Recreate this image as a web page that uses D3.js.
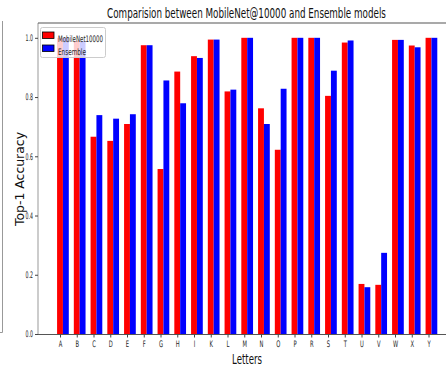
<!DOCTYPE html>
<html>
<head>
<meta charset="utf-8">
<script src="https://cdn.jsdelivr.net/npm/d3@7"></script>
<style>
  body { margin: 0; background: #fff; }
  svg { display: block; }
  text { font-family: "DejaVu Sans", sans-serif; }
</style>
</head>
<body>
<svg width="446" height="368"></svg>
<script>
// letters on the x axis
const letters = ["A","B","C","D","E","F","G","H","I","K","L","M","N","O","P","R","S","T","U","V","W","X","Y"];

// top-1 accuracy
const mobilenet = [1.0, 0.99, 0.666, 0.652, 0.709, 0.975, 0.557, 0.886, 0.938, 0.994, 0.819, 1.0,
  0.762, 0.622, 1.0, 1.0, 0.804, 0.984, 0.169, 0.166, 0.993, 0.974, 1.0];
const ensemble = [1.0, 0.99, 0.739, 0.727, 0.742, 0.975, 0.856, 0.779, 0.932, 0.994, 0.825, 1.0,
  0.709, 0.828, 1.0, 1.0, 0.889, 0.991, 0.158, 0.274, 0.993, 0.968, 1.0];

const yTicks = [0, 0.2, 0.4, 0.6, 0.8, 1.0];
const seriesNames = ["MobileNet10000", "Ensemble"];
const colors = ["#ff0000", "#0000ff"];

const svg = d3.select("svg");

const plotLeft = 38, plotRight = 456, plotTop = 23, plotBottom = 334;
const barW = 0.35;
const squeeze = 0.58; // the source picture is squashed sideways

// index -> pixel
const x = d3.scaleLinear().domain([0, letters.length - 1]).range([60, 428.5]);
const y = d3.scaleLinear().domain([0, 1.05]).range([plotBottom, plotTop]);

// places a horizontally squeezed text at (px, py)
function label(px, py, txt, size, anchor, width) {
  const t = svg.append("text")
    .attr("font-size", size)
    .attr("text-anchor", anchor)
    .attr("fill", "#111")
    .text(txt);
  let sx = squeeze;
  if (width) sx = width / t.node().getComputedTextLength();
  t.attr("transform", `translate(${px},${py}) scale(${sx},1)`);
  return t;
}

// stray frame edge on the far left
svg.append("path")
  .attr("d", "M2.5,21V332.5H0")
  .attr("fill", "none")
  .attr("stroke", "#999")
  .attr("stroke-width", 1);

const bars = svg.append("g");
[mobilenet, ensemble].forEach((vals, s) => {
  bars.append("g")
    .selectAll("rect")
    .data(vals)
    .enter()
    .append("rect")
    .attr("x", (d, i) => x(i - barW / 2 + s * barW))
    .attr("width", x(barW) - x(0))
    .attr("y", (d) => y(d))
    .attr("height", (d) => y(0) - y(d))
    .attr("fill", colors[s]);
});

// spines
svg.append("line").attr("x1", plotLeft).attr("x2", plotLeft).attr("y1", plotTop).attr("y2", plotBottom)
  .attr("stroke", "#999").attr("stroke-width", 1);
svg.append("line").attr("x1", plotLeft).attr("x2", plotRight).attr("y1", plotBottom + 0.5).attr("y2", plotBottom + 0.5)
  .attr("stroke", "#555").attr("stroke-width", 1);
svg.append("line").attr("x1", plotLeft).attr("x2", plotRight).attr("y1", plotTop).attr("y2", plotTop)
  .attr("stroke", "#555").attr("stroke-width", 1.2);

// axes
const xAxis = d3.axisBottom(x)
  .tickValues(d3.range(letters.length))
  .tickFormat((i) => letters[i])
  .tickSize(3)
  .tickPadding(3);
const gx = svg.append("g").attr("transform", `translate(0,${plotBottom + 0.5})`).call(xAxis);
gx.select(".domain").remove();
gx.selectAll(".tick line").attr("stroke", "#444");
gx.selectAll(".tick text")
  .attr("font-family", null)
  .attr("font-size", 9).attr("fill", "#222")
  .attr("transform", `scale(${squeeze},1)`);

const yAxis = d3.axisLeft(y)
  .tickValues(yTicks)
  .tickFormat(d3.format(".1f"))
  .tickSize(3)
  .tickPadding(2);
const gy = svg.append("g").attr("transform", `translate(${plotLeft},0)`).call(yAxis);
gy.select(".domain").remove();
gy.selectAll(".tick line").attr("stroke", "#444");
gy.selectAll(".tick text")
  .attr("font-family", null)
  .attr("font-size", 9).attr("fill", "#222")
  .attr("x", -5 / 0.52)
  .attr("transform", "scale(0.52,1)");

// legend
const lg = svg.append("g").attr("transform", "translate(40.5,27.5)");
lg.append("rect")
  .attr("width", 65).attr("height", 30).attr("rx", 2)
  .attr("fill", "#fff").attr("fill-opacity", 0.8)
  .attr("stroke", "#ccc").attr("stroke-width", 1);
seriesNames.forEach((name, s) => {
  lg.append("rect")
    .attr("x", 2).attr("y", 4.5 + s * 13)
    .attr("width", 11.5).attr("height", 6.5)
    .attr("fill", colors[s]).attr("stroke", "#000").attr("stroke-width", 0.8);
});
label(58, 41.5, seriesNames[0], 9, "start", 45).attr("fill", "#222");
label(58, 54.5, seriesNames[1], 9, "start", 28).attr("fill", "#222");

// title and axis labels
label(246.5, 17.5, "Comparision between MobileNet@10000 and Ensemble models", 14, "middle", 279);
label(247, 363.5, "Letters", 14.5, "middle", 30);

svg.append("text")
  .attr("transform", "translate(24,179) rotate(-90)")
  .attr("text-anchor", "middle")
  .attr("font-size", 11.5)
  .attr("textLength", 94)
  .attr("lengthAdjust", "spacingAndGlyphs")
  .attr("fill", "#111")
  .text("Top-1 Accuracy");
</script>
</body>
</html>
